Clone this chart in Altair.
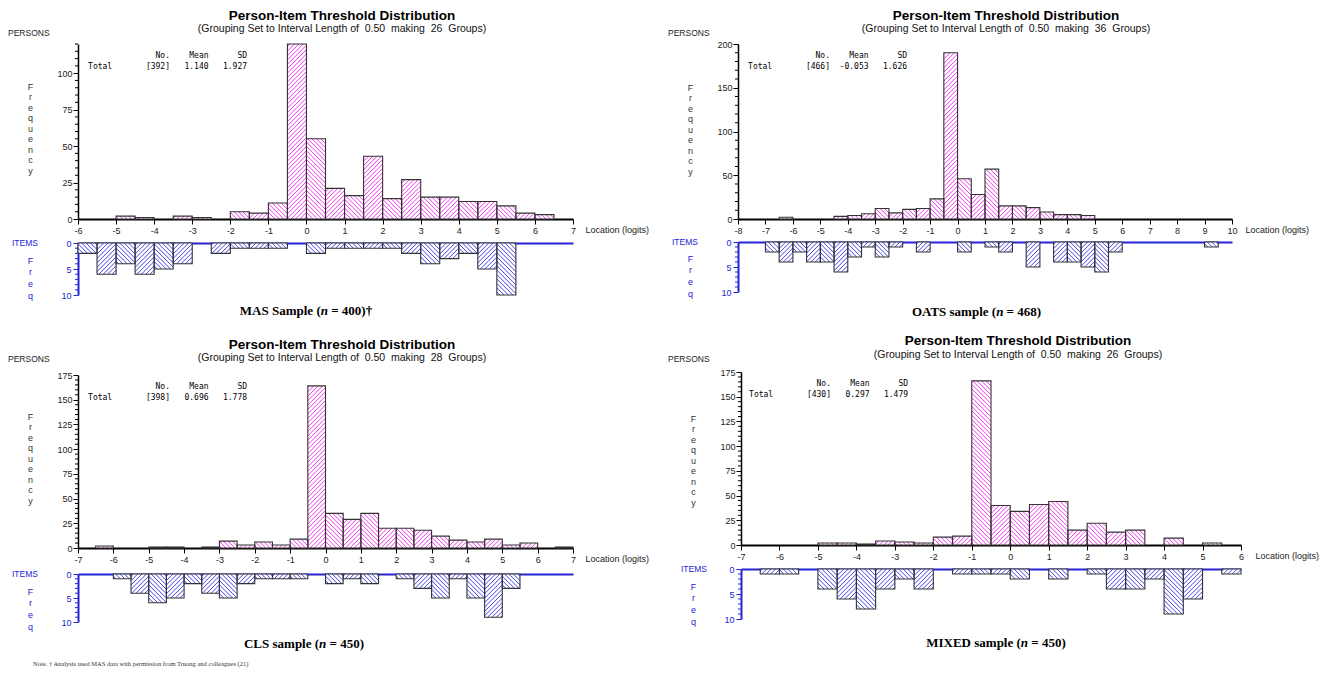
import altair as alt
import pandas as pd

# ---------------- data ----------------
# MAS sample
mas_person_lo = [-5, -4.5, -3.5, -3, -2, -1.5, -1, -0.5, 0, 0.5, 1, 1.5, 2, 2.5, 3, 3.5, 4, 4.5, 5, 5.5, 6]
mas_person_freq = [2, 1, 2, 1, 5, 4, 11, 120, 55, 21, 16, 43, 14, 27, 15, 15, 12, 12, 9, 4, 3]
mas_item_lo = [-6, -5.5, -5, -4.5, -4, -3.5, -2.5, -2, -1.5, -1, 0, 0.5, 1, 1.5, 2, 2.5, 3, 3.5, 4, 4.5, 5]
mas_item_freq = [2, 6, 4, 6, 5, 4, 2, 1, 1, 1, 2, 1, 1, 1, 1, 2, 4, 3, 2, 5, 10]

# OATS sample
oats_person_lo = [-6.5, -4.5, -4, -3.5, -3, -2.5, -2, -1.5, -1, -0.5, 0, 0.5, 1, 1.5, 2, 2.5, 3, 3.5, 4, 4.5]
oats_person_freq = [2, 3, 4, 6, 12, 7, 11, 12, 23, 190, 46, 28, 57, 15, 15, 13, 8, 5, 5, 4]
oats_item_lo = [-7, -6.5, -6, -5.5, -5, -4.5, -4, -3.5, -3, -2.5, -1.5, 0, 1, 1.5, 2.5, 3.5, 4, 4.5, 5, 5.5, 9]
oats_item_freq = [2, 4, 2, 4, 4, 6, 3, 1, 3, 1, 2, 2, 1, 2, 5, 4, 4, 5, 6, 2, 1]

# CLS sample
cls_person_lo = [-6.5, -5, -4.5, -3.5, -3, -2.5, -2, -1.5, -1, -0.5, 0, 0.5, 1, 1.5, 2, 2.5, 3, 3.5, 4, 4.5, 5, 5.5, 6.5]
cls_person_freq = [2, 1, 1, 1, 7, 3, 6, 3, 9, 164, 35, 29, 35, 20, 20, 18, 12, 8, 6, 9, 3, 5, 1]
cls_item_lo = [-6, -5.5, -5, -4.5, -4, -3.5, -3, -2.5, -2, -1.5, -1, 0, 0.5, 1, 2, 2.5, 3, 3.5, 4, 4.5, 5]
cls_item_freq = [1, 4, 6, 5, 2, 4, 5, 2, 1, 1, 1, 2, 1, 2, 1, 3, 5, 1, 5, 9, 3]

# MIXED sample
mix_person_lo = [-5, -4.5, -4, -3.5, -3, -2.5, -2, -1.5, -1, -0.5, 0, 0.5, 1, 1.5, 2, 2.5, 3, 4, 5]
mix_person_freq = [2, 2, 1, 4, 3, 2, 8, 9, 166, 40, 34, 41, 44, 15, 22, 13, 15, 7, 2]
mix_item_lo = [-6.5, -6, -5, -4.5, -4, -3.5, -3, -2.5, -1.5, -1, -0.5, 0, 1, 2, 2.5, 3, 3.5, 4, 4.5, 5.5]
mix_item_freq = [1, 1, 4, 6, 8, 4, 2, 4, 1, 1, 1, 2, 2, 1, 4, 4, 2, 9, 6, 1]

# summary statistics and labels
stats_no = ["[392]", "[466]", "[398]", "[430]"]
stats_mean = ["1.140", "-0.053", "0.696", "0.297"]
stats_sd = ["1.927", "1.626", "1.778", "1.479"]
n_groups = ["26", "36", "28", "26"]
caption_pre = ["MAS Sample (", "OATS sample (", "CLS sample (", "MIXED sample ("]
caption_post = ["= 400)\u2020", "= 468)", "= 450)", "= 450)"]
note_text = "Note. \u2020 Analysis used MAS data with permission from Truong and colleagues (21)"

# ---------------- style ----------------
SANS = "Liberation Sans"
SERIF = "Liberation Serif"
MONO = "DejaVu Sans Mono"
PINK_LINE = "#ee3cec"
BLUE_LINE = "#4646e6"
BLUE = "#2424d4"
INK = "#222222"
NB = "\u00a0"
W, H = 1305, 660
BIN = 0.5
HATCH_STEP = 4.4  # px between hatch lines (vertical)

# Times-Bold advance widths (per 1000 em) for caption centring
TB = {"M": 944, "A": 722, "S": 556, "O": 778, "T": 667, "C": 722, "L": 667, "I": 389,
      "X": 722, "E": 667, "D": 722, "a": 500, "m": 833, "p": 556, "l": 278, "e": 444,
      "s": 389, " ": 250, "(": 333, ")": 333, "=": 570, "\u2020": 500}


def tw(s, size):
    return sum(TB.get(c, 500) for c in s) * size / 1000.0


def txt(s, x, y, size=9, color=INK, align="left", baseline="middle", font=SANS,
        weight="normal", line_height=None, style="normal"):
    kw = dict(text=s, fontSize=size, color=color, align=align, baseline=baseline,
              font=font, fontWeight=weight, fontStyle=style)
    if line_height:
        kw["lineHeight"] = line_height
    return alt.Chart(pd.DataFrame({"k": [0]})).mark_text(**kw).encode(
        x=alt.value(x), y=alt.value(y))


def hatch_segments(los, freqs, xmin, kx, ky, hanging):
    """Diagonal hatch lines inside each bar, alternating direction per bin."""
    rows = []
    w = BIN * kx
    for lo, f in zip(los, freqs):
        h = f * ky
        k = int(round((lo - xmin) / BIN))
        slash = (k % 2 == 1)          # '/' on screen for odd bins
        rising = slash != hanging     # value grows with x
        if rising:
            c = -w + HATCH_STEP / 2
            while c < h:
                xa, xb = max(0.0, -c), min(w, h - c)
                if xb - xa > 0.6:
                    rows.append((lo + xa / kx, (xa + c) / ky, lo + xb / kx, (xb + c) / ky))
                c += HATCH_STEP
        else:
            c = HATCH_STEP / 2
            while c < w + h:
                xa, xb = max(0.0, c - h), min(w, c)
                if xb - xa > 0.6:
                    rows.append((lo + xa / kx, (c - xa) / ky, lo + xb / kx, (c - xb) / ky))
                c += HATCH_STEP
    return pd.DataFrame(rows, columns=["xa", "ya", "xb", "yb"])


def bar_layers(df_lo, df_freq, xs, ys, xaxis, yaxis, xmin, kx, ky, hanging, line_color):
    df = pd.DataFrame({"lo": df_lo, "freq": df_freq})
    base = alt.Chart(df).transform_calculate(hi="datum.lo + %s" % BIN)
    fill = base.mark_rect(fill="white").encode(
        x=alt.X("lo:Q", scale=xs, axis=xaxis), x2="hi:Q",
        y=alt.Y("freq:Q", scale=ys, axis=yaxis), y2=alt.datum(0))
    hd = hatch_segments(df_lo, df_freq, xmin, kx, ky, hanging)
    hatch = alt.Chart(hd).mark_rule(color=line_color, strokeWidth=1).encode(
        x=alt.X("xa:Q", scale=xs, axis=None), x2="xb:Q",
        y=alt.Y("ya:Q", scale=ys, axis=None), y2="yb:Q")
    outline = base.mark_rect(fillOpacity=0, stroke="#333", strokeWidth=1.1).encode(
        x=alt.X("lo:Q", scale=xs, axis=None), x2="hi:Q",
        y=alt.Y("freq:Q", scale=ys, axis=None), y2=alt.datum(0))
    return [fill, hatch, outline]


def panel(i, cfg):
    X0, X1 = cfg["x_px"]
    PY0, PYT = cfg["py_px"]
    IY0, IY10 = cfg["iy_px"]
    xmin, xmax = cfg["xdom"]
    kx = (X1 - X0) / (xmax - xmin)
    kyp = (PY0 - PYT) / cfg["ymax"]
    kyi = (IY10 - IY0) / 10.0
    xs = alt.Scale(domain=cfg["xdom"], range=[X0, X1], nice=False, zero=False)
    pys = alt.Scale(domain=[0, cfg["ymax"]], range=[PY0, PYT], nice=False, zero=False)
    iys = alt.Scale(domain=[0, 10], range=[IY0, IY10], nice=False, zero=False)
    xticks = list(range(xmin, xmax + 1))

    px_axis = alt.Axis(
        orient="bottom", offset=PY0 - H, values=xticks, labelExpr="datum.value + ''",
        tickSize=5, tickColor="#000", domainColor="#000", domainWidth=2,
        labelFont=SANS, labelFontSize=9, labelColor=INK, labelPadding=2,
        labelFlush=False, labelOverlap=False, grid=False,
        title="Location (logits)", titleX=cfg["loc_x"], titleY=10, titleAlign="left",
        titleBaseline="middle", titleAngle=0, titleFont=SANS, titleFontSize=9,
        titleFontWeight="normal", titleColor=INK)
    py_axis = alt.Axis(
        orient="left", offset=-X0, values=cfg["yticks"], tickSize=5, tickColor="#000",
        domainColor="#000", domainWidth=1.5, labelFont=SANS, labelFontSize=9,
        labelColor=INK, labelPadding=1, grid=False, labelOverlap=False,
        title=list("Frequency"), titleX=cfg["freq_x"], titleY=cfg["freq_y"],
        titleAlign="center", titleBaseline="middle", titleAngle=0, titleFont=SANS,
        titleFontSize=9, titleFontWeight="normal", titleColor="#333",
        titleLineHeight=10.5)
    ix_axis = alt.Axis(orient="top", offset=-IY0, ticks=False, labels=False,
                       domainColor=BLUE, domainWidth=2, grid=False, title=None)
    iy_axis = alt.Axis(
        orient="left", offset=-X0, values=[0, 5, 10], tickSize=5, tickColor=BLUE,
        domainColor=BLUE, domainWidth=2, labelFont=SANS, labelFontSize=9,
        labelColor=BLUE, labelPadding=2, grid=False, labelOverlap=False,
        title=list("Freq"), titleX=cfg["freq_x"], titleY=cfg["ifreq_y"],
        titleAlign="center", titleBaseline="middle", titleAngle=0, titleFont=SANS,
        titleFontSize=9, titleFontWeight="normal", titleColor=BLUE,
        titleLineHeight=11.8)

    layers = []
    layers += bar_layers(cfg["p_lo"], cfg["p_freq"], xs, pys, px_axis, py_axis,
                         xmin, kx, kyp, False, PINK_LINE)
    layers.append(
        alt.Chart(pd.DataFrame({"v": cfg["p_minor"]})).mark_rule(color="#000", strokeWidth=1)
        .encode(y=alt.Y("v:Q", scale=pys, axis=None), x=alt.value(X0 - 3), x2=alt.value(X0)))
    layers += bar_layers(cfg["i_lo"], cfg["i_freq"], xs, iys, ix_axis, iy_axis,
                         xmin, kx, kyi, True, BLUE_LINE)
    layers.append(
        alt.Chart(pd.DataFrame({"v": [1, 2, 3, 4, 6, 7, 8, 9]})).mark_rule(color=BLUE, strokeWidth=1)
        .encode(y=alt.Y("v:Q", scale=iys, axis=None), x=alt.value(X0 - 3), x2=alt.value(X0)))

    # titles
    tx, ty, sy = cfg["title_xy"]
    layers.append(txt("Person-Item Threshold Distribution", tx, ty, size=13.5,
                      color="#000", align="center", weight="bold"))
    sub = ("(Grouping Set to Interval Length of" + NB * 2 + "0.50" + NB * 2 + "making"
           + NB * 2 + n_groups[i] + NB * 2 + "Groups)")
    layers.append(txt(sub, tx, sy, size=10.5, color="#111", align="center"))
    # side labels
    layers.append(txt("PERSONS", cfg["persons_xy"][0], cfg["persons_xy"][1], size=8.5, color=INK))
    layers.append(txt("ITEMS", cfg["items_xy"][0], cfg["items_xy"][1], size=8.5, color=BLUE))
    # statistics box (monospace, right aligned columns)
    row1 = "No." + NB * 4 + "Mean" + NB * 6 + "SD"
    mean = stats_mean[i]
    row2 = ("Total" + NB * 7 + stats_no[i] + NB * (8 - len(mean)) + mean
            + NB * 3 + stats_sd[i])
    sx, sy2 = cfg["stats_xy"]
    layers.append(txt([row1, row2], sx + 33 * 4.82, sy2, size=8, color="#000", font=MONO,
                      align="right", line_height=11))
    # caption with italic n
    cx, cy = cfg["caption_xy"]
    pre, post = caption_pre[i], caption_post[i]
    nw, sp = 7.2, 3.25
    total = tw(pre, 13) + nw + sp + tw(post, 13)
    xn = cx - total / 2 + tw(pre, 13)
    layers.append(txt(pre, xn, cy, size=13, color="#000", align="right", font=SERIF, weight="bold"))
    layers.append(txt("n", xn, cy, size=13, color="#000", font=SERIF, weight="bold", style="italic"))
    layers.append(txt(post, xn + nw + sp, cy, size=13, color="#000", font=SERIF, weight="bold"))
    return layers


panels = [
    dict(p_lo=mas_person_lo, p_freq=mas_person_freq, i_lo=mas_item_lo, i_freq=mas_item_freq,
         x_px=(70, 565), py_px=(211, 36), iy_px=(235, 287), xdom=[-6, 7], ymax=120,
         yticks=[0, 25, 50, 75, 100], p_minor=[v for v in range(0, 121, 5) if v % 25],
         title_xy=(334, 8, 21), persons_xy=(0, 25), items_xy=(4, 235), stats_xy=(80, 47.5),
         freq_x=-48, freq_y=78, ifreq_y=252, loc_x=577, caption_xy=(298, 303)),
    dict(p_lo=oats_person_lo, p_freq=oats_person_freq, i_lo=oats_item_lo, i_freq=oats_item_freq,
         x_px=(730, 1224), py_px=(211, 36), iy_px=(234, 284), xdom=[-8, 10], ymax=200,
         yticks=[0, 50, 100, 150, 200], p_minor=[v for v in range(0, 201, 10) if v % 50],
         title_xy=(998, 8, 21), persons_xy=(660, 25), items_xy=(664, 234), stats_xy=(740, 47.5),
         freq_x=-48, freq_y=79, ifreq_y=250, loc_x=1237, caption_xy=(968, 304)),
    dict(p_lo=cls_person_lo, p_freq=cls_person_freq, i_lo=cls_item_lo, i_freq=cls_item_freq,
         x_px=(70, 565), py_px=(540, 367), iy_px=(566, 614), xdom=[-7, 7], ymax=175,
         yticks=[0, 25, 50, 75, 100, 125, 150, 175], p_minor=[v for v in range(0, 176, 5) if v % 25],
         title_xy=(334, 337, 350), persons_xy=(0, 351), items_xy=(4, 566), stats_xy=(80, 378.5),
         freq_x=-48, freq_y=408, ifreq_y=583, loc_x=577, caption_xy=(296, 636)),
    dict(p_lo=mix_person_lo, p_freq=mix_person_freq, i_lo=mix_item_lo, i_freq=mix_item_freq,
         x_px=(733, 1233), py_px=(537, 364), iy_px=(561, 611), xdom=[-7, 6], ymax=175,
         yticks=[0, 25, 50, 75, 100, 125, 150, 175], p_minor=[v for v in range(0, 176, 5) if v % 25],
         title_xy=(1010, 333, 347), persons_xy=(660, 351), items_xy=(673, 561), stats_xy=(741, 375.5),
         freq_x=-48, freq_y=410, ifreq_y=578, loc_x=1247, caption_xy=(988, 635)),
]

all_layers = []
for i, cfg in enumerate(panels):
    all_layers += panel(i, cfg)
all_layers.append(txt(note_text, 25, 656, size=6.5, color="#333", font=SERIF))

chart = (
    alt.layer(*all_layers)
    .resolve_scale(x="independent", y="independent")
    .resolve_axis(x="independent", y="independent")
    .properties(width=W, height=H, padding=0)
    .configure_view(stroke=None)
)

chart.save("out.html", embed_options={"renderer": "svg", "actions": False})
